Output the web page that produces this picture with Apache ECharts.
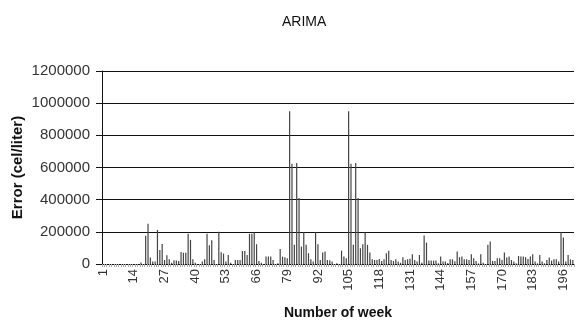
<!DOCTYPE html>
<html>
<head>
<meta charset="utf-8">
<script src="https://cdn.jsdelivr.net/npm/echarts@6/dist/echarts.min.js"></script>
<style>
  html, body { margin: 0; padding: 0; background: #fff; }
  #chart { width: 576px; height: 323px; }
</style>
</head>
<body>
<div id="chart"></div>
<script>
const weekCount = 200;
const weeks = Array.from({ length: weekCount }, (_, i) => String(i + 1));

// ARIMA forecast error per week (cel/liter)
const errors = [
  0, 0, 0, 0, 0, 0, 0, 0, 0, 0,
  0, 0, 0, 0, 0, 0, 10000, 0, 175000, 250000,
  40000, 15000, 15000, 212000, 87000, 124000, 25000, 55000, 30000, 8000,
  23000, 22000, 18000, 75000, 70000, 70000, 188000, 150000, 30000, 8000,
  0, 0, 15000, 30000, 188000, 117000, 148000, 25000, 0, 200000,
  73000, 65000, 15000, 56000, 8000, 0, 25000, 25000, 25000, 81000,
  81000, 56000, 188000, 188000, 196000, 123000, 19000, 8000, 0, 46000,
  46000, 46000, 25000, 0, 4000, 94000, 46000, 42000, 35000, 950000,
  623000, 119000, 628000, 410000, 108000, 198000, 119000, 67000, 29000, 15000,
  198000, 123000, 25000, 71000, 77000, 25000, 23000, 15000, 0, 4000,
  0, 83000, 46000, 35000, 950000, 623000, 119000, 628000, 410000, 98000,
  123000, 196000, 119000, 71000, 29000, 25000, 25000, 31000, 19000, 29000,
  67000, 83000, 25000, 19000, 29000, 15000, 8000, 42000, 25000, 29000,
  33000, 60000, 25000, 15000, 56000, 8000, 177000, 133000, 21000, 21000,
  21000, 21000, 4000, 46000, 15000, 15000, 6000, 29000, 29000, 17000,
  77000, 42000, 46000, 29000, 29000, 25000, 60000, 35000, 19000, 4000,
  60000, 8000, 0, 119000, 140000, 19000, 19000, 35000, 35000, 25000,
  71000, 40000, 46000, 25000, 15000, 4000, 50000, 46000, 46000, 42000,
  31000, 46000, 60000, 15000, 4000, 56000, 15000, 4000, 25000, 40000,
  21000, 29000, 29000, 15000, 198000, 165000, 15000, 56000, 29000, 25000
];

const yMax = 1200000;
const yStep = 200000;
const font = '"Liberation Sans", Arial, sans-serif';

const chart = echarts.init(document.getElementById('chart'));

chart.setOption({
  animation: false,
  backgroundColor: '#fff',
  title: {
    text: 'ARIMA',
    left: 277, top: 10,
    textStyle: { fontFamily: font, fontSize: 14, fontWeight: 'normal', color: '#111' },
  },
  grid: { left: 102, right: 2, top: 71, bottom: 59, outerBoundsMode: 'none' },
  xAxis: {
    type: 'category',
    data: weeks,
    name: 'Number of week',
    nameLocation: 'middle',
    nameGap: 42,
    nameMoveOverlap: false,
    nameTextStyle: { fontFamily: font, fontSize: 14, fontWeight: 'bold', color: '#111' },
    axisLine: { lineStyle: { color: '#111', width: 1 } },
    axisTick: { show: true, interval: 0, length: 3, lineStyle: { color: '#aaa' } },
    axisLabel: { interval: 12, rotate: 90, margin: 5, fontFamily: font, fontSize: 13, color: '#333' },
  },
  yAxis: {
    type: 'value',
    min: 0, max: yMax, interval: yStep,
    name: 'Error (cel/liter)',
    nameLocation: 'middle',
    nameGap: 77,
    nameMoveOverlap: false,
    nameTextStyle: { fontFamily: font, fontSize: 15, fontWeight: 'bold', color: '#111' },
    axisLine: { show: true, lineStyle: { color: '#111', width: 1 } },
    axisTick: { show: true, length: 6, lineStyle: { color: '#111' } },
    axisLabel: { margin: 12, fontFamily: font, fontSize: 15, color: '#333', formatter: v => String(v) },
    splitLine: { lineStyle: { color: '#111', width: 1 } },
  },
  series: [{
    type: 'bar',
    data: errors,
    barWidth: 1.2,
    itemStyle: { color: '#444' },
  }],
});
</script>
</body>
</html>
